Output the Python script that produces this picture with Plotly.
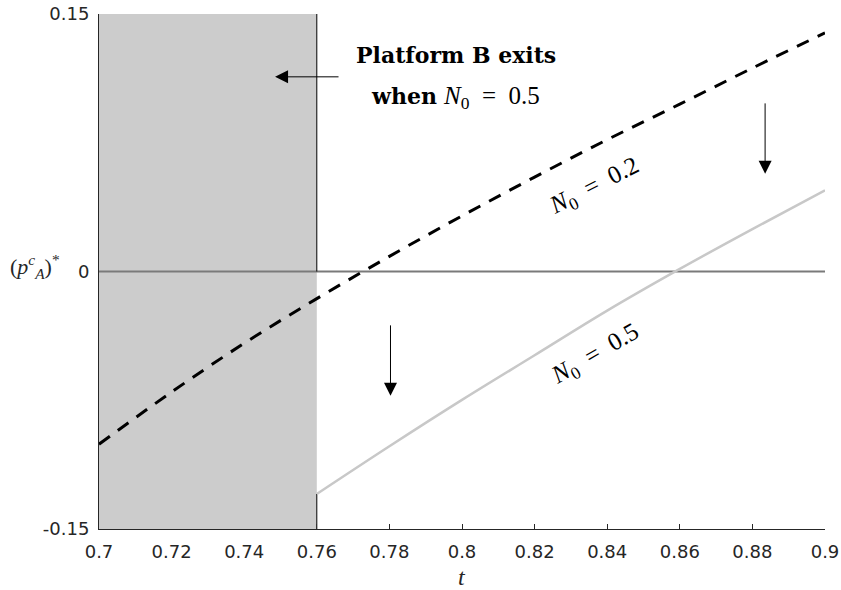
import plotly.graph_objects as go

# ---------------- data ----------------
t_n02 = [0.70, 0.72, 0.74, 0.76, 0.78, 0.80, 0.82, 0.84, 0.86, 0.88, 0.90]
p_n02 = [-0.1006, -0.0702, -0.0418, -0.0158, 0.0088, 0.0324, 0.0550, 0.0768, 0.0975, 0.1185, 0.1390]

t_n05 = [0.76, 0.78, 0.80, 0.82, 0.84, 0.86, 0.88, 0.90]
p_n05 = [-0.1296, -0.1018, -0.0748, -0.0488, -0.0228, 0.0015, 0.0247, 0.0473]

exit_t = 0.76
x_range = [0.7, 0.9]
y_range = [-0.15, 0.15]

x_ticks = [0.70, 0.72, 0.74, 0.76, 0.78, 0.80, 0.82, 0.84, 0.86, 0.88, 0.90]
x_tick_labels = ["0.7", "0.72", "0.74", "0.76", "0.78", "0.8", "0.82", "0.84", "0.86", "0.88", "0.9"]
y_ticks = [-0.15, 0, 0.15]
y_tick_labels = ["-0.15", "0", "0.15"]

# ---------------- styles ----------------
AX = "#262626"
SANS = "DejaVu Sans, Liberation Sans, Arial, sans-serif"
SERIF = "Liberation Serif, Times New Roman, serif"
BOLDSERIF = "DejaVu Serif, serif"
EQ = "\u2002=\u2002"

fig = go.Figure()

# shaded exit region
fig.add_trace(go.Scatter(
    x=[x_range[0], exit_t, exit_t, x_range[0], x_range[0]],
    y=[y_range[0], y_range[0], y_range[1], y_range[1], y_range[0]],
    mode="lines", fill="toself", fillcolor="#cccccc",
    line=dict(width=0, color="#cccccc"), hoverinfo="skip", showlegend=False))

# zero line
fig.add_trace(go.Scatter(
    x=x_range, y=[0, 0], mode="lines",
    line=dict(color="#7a7a7a", width=2), hoverinfo="skip", showlegend=False))

# boundary of exit region
fig.add_trace(go.Scatter(
    x=[exit_t, exit_t, None, exit_t, exit_t],
    y=[y_range[1], 0, None, p_n05[0], y_range[0]],
    mode="lines", line=dict(color="black", width=1),
    hoverinfo="skip", showlegend=False))

# N0 = 0.2 (dashed)
fig.add_trace(go.Scatter(
    x=t_n02, y=p_n02, mode="lines",
    line=dict(color="black", width=3, dash="13px,10px", shape="spline"),
    showlegend=False))

# N0 = 0.5 (light grey)
fig.add_trace(go.Scatter(
    x=t_n05, y=p_n05, mode="lines",
    line=dict(color="#c8c8c8", width=2.5, shape="spline"),
    showlegend=False))

annotations = [
    dict(x=0.7983, y=0.1261, xref="x", yref="y", showarrow=False,
         text="<b>Platform B exits</b>",
         font=dict(family=BOLDSERIF, size=22, color="black")),
    dict(x=0.7983, y=0.1016, xref="x", yref="y", showarrow=False,
         text="<b>when</b> <span style='font-family:Liberation Serif;font-size:25px'><i>N</i><sub>0</sub>" + EQ + "0.5</span>",
         font=dict(family=BOLDSERIF, size=22, color="black")),
    dict(x=0.8366, y=0.0496, xref="x", yref="y", showarrow=False, textangle=-27,
         text="<i>N</i><sub>0</sub>" + EQ + "0.2",
         font=dict(family=SERIF, size=25, color="black")),
    dict(x=0.8369, y=-0.0484, xref="x", yref="y", showarrow=False, textangle=-30,
         text="<i>N</i><sub>0</sub>" + EQ + "0.5",
         font=dict(family=SERIF, size=25, color="black")),
    # arrows
    dict(x=0.7485, y=0.1134, ax=0.7664, ay=0.1134, xref="x", yref="y",
         axref="x", ayref="y", text="", showarrow=True, arrowhead=2,
         arrowsize=2.6, arrowwidth=1, arrowcolor="black"),
    dict(x=0.8835, y=0.057, ax=0.8835, ay=0.0988, xref="x", yref="y",
         axref="x", ayref="y", text="", showarrow=True, arrowhead=2,
         arrowsize=2.6, arrowwidth=1, arrowcolor="black"),
    dict(x=0.7803, y=-0.0724, ax=0.7803, ay=-0.0305, xref="x", yref="y",
         axref="x", ayref="y", text="", showarrow=True, arrowhead=2,
         arrowsize=2.6, arrowwidth=1, arrowcolor="black"),
    # y-axis label
    dict(x=-0.088, y=0.51, xref="paper", yref="paper", showarrow=False,
         xanchor="center", yanchor="middle",
         text="(<i>p</i><sup><i>c</i></sup><sub><i>A</i></sub>)<sup>*</sup>",
         font=dict(family=SERIF, size=22, color=AX)),
    # x-axis label
    dict(x=0.5, y=-0.093, xref="paper", yref="paper", showarrow=False,
         xanchor="center", yanchor="middle",
         text="<i>t</i>", font=dict(family=SERIF, size=24, color=AX)),
]

fig.update_layout(
    width=841, height=590,
    margin=dict(l=99, r=16, t=14, b=61),
    paper_bgcolor="white", plot_bgcolor="white",
    showlegend=False,
    annotations=annotations,
    xaxis=dict(
        range=x_range, tickvals=x_ticks, ticktext=x_tick_labels,
        showline=True, linecolor=AX, linewidth=1, mirror=False,
        ticks="inside", ticklen=5, tickcolor=AX, tickwidth=1,
        showgrid=False, zeroline=False, layer="below traces", automargin=False,
        ticklabelstandoff=6,
        tickfont=dict(family=SANS, size=18, color=AX),
    ),
    yaxis=dict(
        range=y_range, tickvals=y_ticks, ticktext=y_tick_labels,
        showline=True, linecolor=AX, linewidth=1, mirror=False,
        ticks="inside", ticklen=5, tickcolor=AX, tickwidth=1,
        showgrid=False, zeroline=False, layer="below traces", automargin=False,
        ticklabelstandoff=5,
        tickfont=dict(family=SANS, size=18, color=AX),
    ),
)

fig.write_html("out.html", config={"displayModeBar": False},
               post_script="document.body.style.margin='0';")
